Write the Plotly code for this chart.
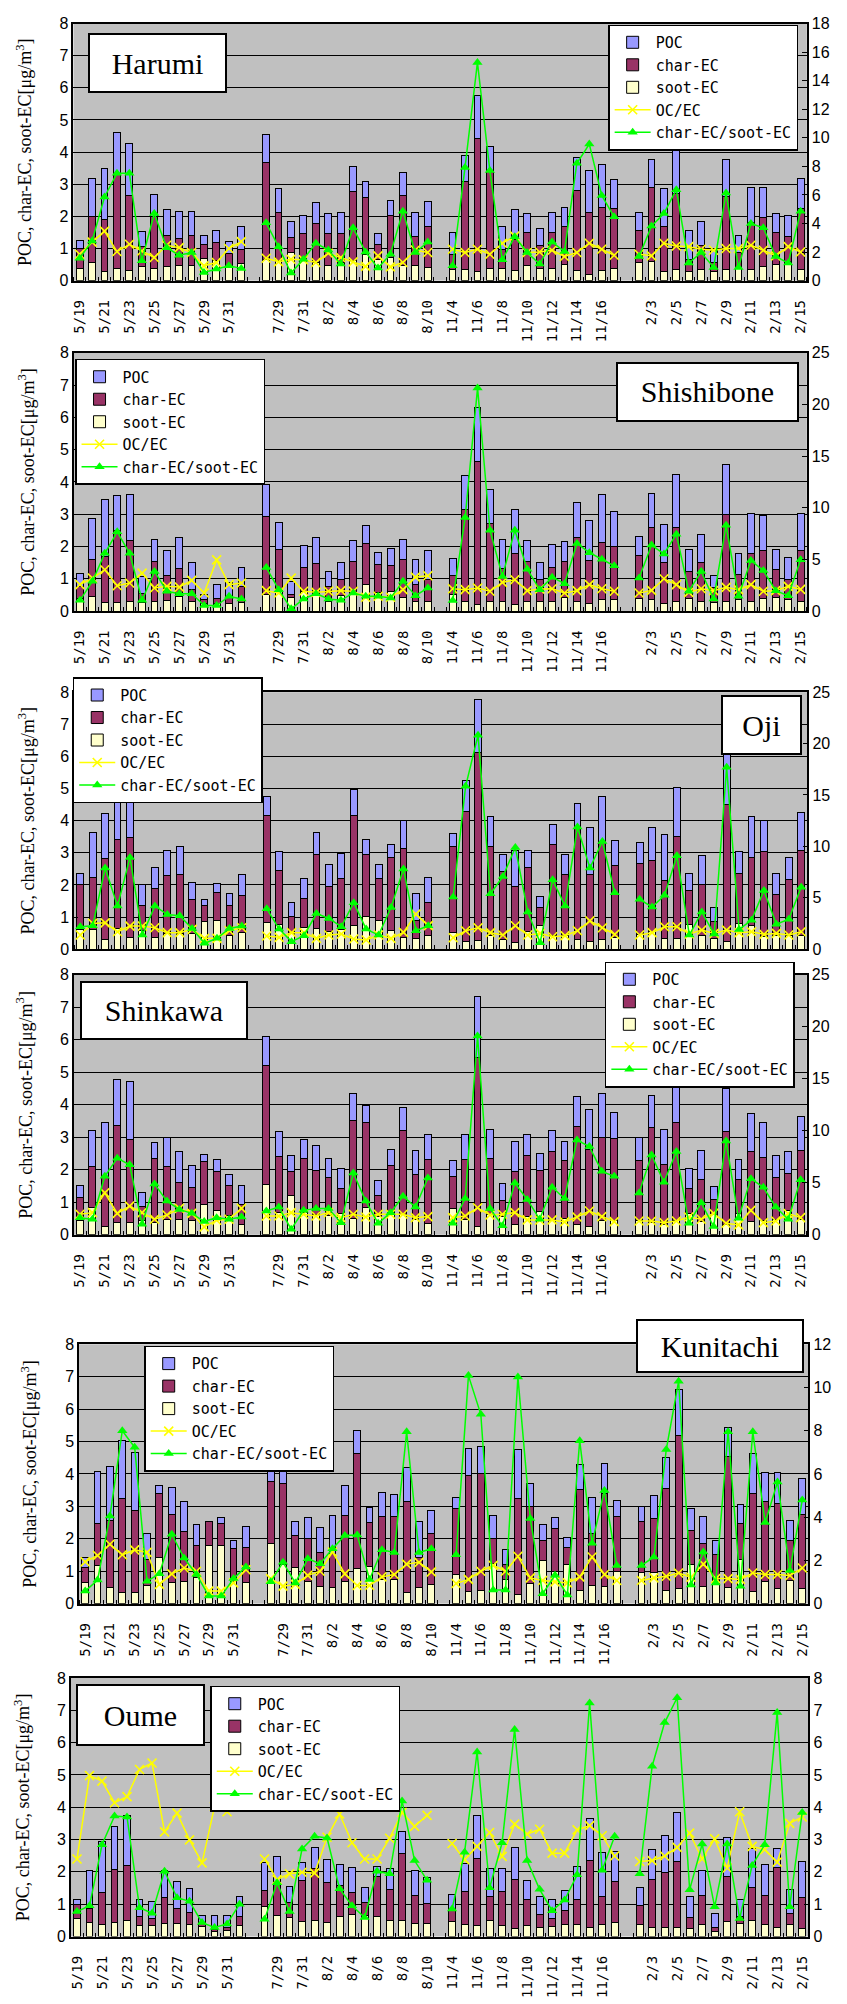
import plotly.graph_objects as go

W, H = 847, 2004

# ---------------- categories ----------------
dates_may = ["5/19", "5/20", "5/21", "5/22", "5/23", "5/24", "5/25", "5/26", "5/27", "5/28", "5/29", "5/30", "5/31", "6/1"]
dates_aug = ["7/28", "7/29", "7/30", "7/31", "8/1", "8/2", "8/3", "8/4", "8/5", "8/6", "8/7", "8/8", "8/9", "8/10"]
dates_nov = ["11/4", "11/5", "11/6", "11/7", "11/8", "11/9", "11/10", "11/11", "11/12", "11/13", "11/14", "11/15", "11/16", "11/17"]
dates_feb = ["2/2", "2/3", "2/4", "2/5", "2/6", "2/7", "2/8", "2/9", "2/10", "2/11", "2/12", "2/13", "2/14", "2/15"]
categories = dates_may + [""] + dates_aug + [""] + dates_nov + [""] + dates_feb

stations = ["Harumi", "Shishibone", "Oji", "Shinkawa", "Kunitachi", "Oume"]
ratio_axis_max = [18, 25, 25, 25, 12, 8]
ratio_axis_dtick = [2, 5, 5, 5, 2, 1]

# ---------------- Harumi ----------------
harumi_soot = [0.39, 0.55, 0.28, 0.39, 0.31, 0.44, 0.39, 0.43, 0.46, 0.46, 0.70, 0.64, 0.42, 0.53,
               0.67, 0.62, 0.87, 0.67, 0.57, 0.46, 0.57, 0.62, 0.82, 0.67, 0.72, 0.46, 0.46, 0.41,
               0.36, 0.36, 0.28, 0.38, 0.39, 0.31, 0.48, 0.39, 0.39, 0.51, 0.31, 0.19, 0.31, 0.38,
               0.57, 0.59, 0.28, 0.36, 0.30, 0.36, 0.28, 0.36, 0.45, 0.36, 0.43, 0.51, 0.61, 0.36]
harumi_char = [0.61, 1.45, 1.62, 2.95, 2.33, 0.62, 1.61, 0.96, 0.85, 0.96, 0.43, 0.54, 0.43, 0.45,
               3.00, 1.51, 0.47, 0.79, 1.21, 1.00, 0.89, 2.14, 1.78, 0.44, 1.31, 2.18, 0.90, 1.29,
               0.46, 2.72, 4.14, 3.02, 0.59, 0.98, 1.01, 0.71, 1.10, 1.16, 2.50, 1.94, 1.98, 1.88,
               1.00, 2.32, 1.42, 2.34, 0.37, 0.72, 0.29, 2.26, 0.42, 1.44, 1.55, 0.98, 0.75, 1.90]
harumi_poc = [0.25, 1.19, 1.60, 1.27, 1.62, 0.46, 0.67, 0.82, 0.85, 0.74, 0.26, 0.39, 0.36, 0.69,
              0.88, 0.75, 0.51, 0.57, 0.66, 0.63, 0.67, 0.79, 0.48, 0.35, 0.46, 0.72, 0.77, 0.75,
              0.67, 0.83, 1.34, 0.79, 0.69, 0.92, 0.60, 0.51, 0.64, 0.62, 1.02, 1.29, 1.34, 0.90,
              0.56, 0.86, 1.18, 1.49, 0.89, 0.77, 0.38, 1.15, 0.54, 1.11, 0.93, 0.60, 0.68, 0.93]
harumi_ocec = [1.85, 2.70, 3.47, 2.04, 2.55, 2.08, 1.62, 2.48, 2.31, 1.97, 1.04, 1.27, 2.25, 2.73,
               1.57, 1.32, 1.50, 1.46, 1.27, 1.92, 1.62, 1.32, 1.00, 1.74, 0.97, 1.27, 2.15, 1.97,
               2.20, 1.97, 2.20, 1.85, 2.62, 3.12, 1.97, 2.01, 2.13, 1.69, 1.97, 2.62, 2.20, 1.78,
               1.85, 1.74, 2.62, 2.43, 2.38, 2.20, 2.13, 2.25, 2.25, 2.48, 2.13, 1.74, 2.38, 2.01]
harumi_ratio = [1.57, 2.78, 5.86, 7.52, 7.52, 1.39, 4.70, 2.31, 1.78, 1.97, 0.58, 0.81, 1.04, 0.86,
                4.05, 2.38, 0.53, 1.50, 2.62, 2.15, 1.16, 3.70, 2.01, 0.88, 1.85, 4.86, 1.97, 2.70,
                1.04, 7.92, 15.28, 7.71, 1.46, 3.08, 1.97, 1.16, 2.71, 2.04, 8.22, 9.56, 5.97, 4.47,
                1.69, 3.82, 4.70, 6.37, 1.23, 1.97, 0.93, 6.13, 0.93, 4.00, 3.70, 1.69, 1.23, 4.86]

# ---------------- Shishibone ----------------
shishibone_soot = [0.38, 0.44, 0.28, 0.28, 0.31, 0.26, 0.31, 0.34, 0.44, 0.31, 0.24, 0.25, 0.23, 0.28,
                   0.51, 0.62, 0.41, 0.62, 0.55, 0.31, 0.47, 0.51, 0.82, 0.59, 0.61, 0.41, 0.31, 0.31,
                   0.51, 0.31, 0.20, 0.31, 0.31, 0.20, 0.31, 0.31, 0.31, 0.41, 0.31, 0.23, 0.36, 0.36,
                   0.38, 0.36, 0.23, 0.31, 0.38, 0.31, 0.26, 0.31, 0.36, 0.31, 0.38, 0.43, 0.36, 0.31]
shishibone_char = [0.39, 1.15, 1.41, 2.22, 1.89, 0.30, 1.22, 0.75, 0.89, 0.35, 0.12, 0.13, 0.23, 0.49,
                   2.43, 1.29, 0.10, 0.74, 0.93, 0.46, 0.50, 1.02, 1.26, 0.84, 0.79, 1.18, 0.51, 0.66,
                   0.58, 2.83, 4.43, 2.40, 1.02, 1.57, 1.22, 0.66, 1.05, 1.12, 1.97, 1.34, 1.76, 1.63,
                   1.34, 2.23, 1.27, 2.28, 0.85, 1.20, 0.46, 2.69, 0.77, 1.48, 1.49, 0.85, 0.61, 1.56]
shishibone_poc = [0.41, 1.27, 1.76, 1.07, 1.41, 0.51, 0.70, 0.78, 0.95, 0.86, 0.15, 0.44, 0.43, 0.59,
                  0.98, 0.83, 0.41, 0.66, 0.79, 0.46, 0.53, 0.67, 0.56, 0.38, 0.54, 0.64, 0.79, 0.90,
                  0.55, 1.05, 1.66, 1.05, 0.89, 1.37, 0.65, 0.54, 0.69, 0.62, 1.08, 1.24, 1.48, 1.10,
                  0.58, 1.04, 1.19, 1.64, 0.68, 0.87, 0.37, 1.53, 0.66, 1.23, 1.10, 0.63, 0.70, 1.15]
shishibone_ocec = [2.56, 3.20, 4.00, 2.46, 2.72, 3.68, 2.24, 2.40, 2.33, 2.97, 1.76, 4.96, 2.56, 2.72,
                   1.98, 1.76, 3.20, 1.92, 1.82, 1.92, 1.98, 1.92, 1.34, 1.44, 1.34, 2.08, 3.29, 3.42,
                   2.17, 2.08, 2.24, 1.92, 2.78, 3.04, 1.98, 2.14, 2.17, 1.76, 1.98, 2.56, 2.17, 1.92,
                   1.76, 2.01, 3.13, 2.56, 1.82, 2.17, 1.98, 2.30, 2.08, 2.56, 1.92, 1.98, 2.40, 2.10]
shishibone_ratio = [1.05, 2.88, 5.60, 7.67, 5.60, 1.05, 3.84, 1.92, 1.69, 1.69, 0.54, 0.54, 1.44, 1.18,
                    4.22, 2.08, 0.22, 1.18, 1.69, 1.18, 1.05, 1.76, 1.44, 1.44, 1.28, 2.88, 1.50, 2.24,
                    1.02, 9.05, 21.60, 7.83, 3.36, 7.83, 4.06, 2.08, 3.29, 2.65, 6.55, 5.66, 5.02, 4.38,
                    3.20, 6.39, 5.53, 7.45, 1.92, 3.84, 1.18, 8.31, 1.44, 4.89, 3.93, 1.98, 1.50, 4.96]

# ---------------- Oji ----------------
oji_soot = [0.60, 0.62, 0.31, 0.66, 0.36, 0.58, 0.36, 0.49, 0.49, 0.49, 0.87, 0.90, 0.44, 0.51,
            0.83, 0.77, 0.49, 0.68, 0.65, 0.54, 0.60, 0.73, 1.03, 0.90, 0.58, 0.36, 0.32, 0.44,
            0.51, 0.24, 0.27, 0.44, 0.29, 0.21, 0.54, 0.75, 0.44, 0.44, 0.29, 0.24, 0.29, 0.37,
            0.46, 0.54, 0.34, 0.34, 0.77, 0.44, 0.34, 0.24, 0.80, 0.75, 0.39, 0.44, 0.44, 0.44]
oji_char = [1.40, 1.62, 2.50, 2.76, 3.12, 0.79, 1.52, 1.80, 1.85, 1.05, 0.50, 0.86, 0.93, 1.15,
            3.34, 1.68, 0.54, 0.89, 2.31, 1.42, 1.59, 3.44, 1.93, 1.29, 2.26, 2.79, 0.58, 1.01,
            2.69, 4.06, 5.86, 2.76, 2.14, 1.75, 1.99, 0.55, 2.83, 1.88, 3.49, 2.08, 3.03, 2.23,
            2.22, 2.22, 1.80, 3.17, 1.06, 1.56, 0.51, 4.26, 1.57, 2.09, 2.64, 1.26, 1.73, 2.62]
oji_poc = [0.37, 1.39, 1.41, 1.19, 1.60, 0.63, 0.65, 0.79, 0.86, 0.55, 0.17, 0.30, 0.36, 0.66,
           0.59, 0.58, 0.42, 0.64, 0.67, 0.69, 0.80, 0.80, 0.46, 0.46, 0.43, 0.87, 0.83, 0.79,
           0.40, 0.94, 1.64, 0.94, 0.53, 1.12, 0.55, 0.35, 0.60, 0.64, 0.74, 1.46, 1.44, 0.79,
           0.64, 1.02, 1.42, 1.53, 0.54, 0.93, 0.45, 1.60, 0.67, 1.30, 0.99, 0.67, 0.67, 1.19]
oji_ocec = [1.38, 2.51, 2.57, 1.70, 2.25, 2.25, 2.09, 1.61, 1.61, 1.93, 1.06, 1.06, 1.80, 2.09,
            1.29, 1.16, 1.61, 1.61, 1.06, 1.38, 1.48, 1.00, 0.90, 1.38, 1.06, 1.64, 3.41, 2.30,
            1.12, 1.80, 2.09, 1.61, 1.38, 2.28, 1.38, 1.54, 1.22, 1.32, 1.80, 2.76, 2.09, 1.45,
            1.38, 1.61, 2.19, 2.19, 1.48, 1.86, 1.54, 1.86, 1.61, 1.70, 1.45, 1.54, 1.38, 1.70]
oji_ratio = [2.19, 2.28, 7.90, 4.21, 8.93, 1.38, 4.21, 3.37, 3.25, 2.02, 0.58, 1.06, 2.02, 2.25,
             3.95, 1.96, 0.74, 1.32, 3.47, 2.99, 2.19, 4.53, 1.96, 1.38, 4.05, 7.81, 1.80, 2.28,
             5.08, 15.84, 20.82, 5.40, 7.07, 9.90, 3.63, 0.64, 6.75, 4.21, 11.89, 7.90, 10.48, 5.50,
             4.85, 4.11, 5.24, 9.09, 1.38, 3.63, 1.48, 17.70, 1.93, 2.83, 5.72, 2.44, 2.92, 6.04]

# ---------------- Shinkawa ----------------
shinkawa_soot = [0.43, 0.83, 0.27, 0.38, 0.38, 0.43, 0.38, 0.48, 0.48, 0.45, 0.93, 0.76, 0.60, 0.33,
                 1.54, 0.68, 1.21, 0.68, 0.63, 0.58, 0.65, 0.50, 0.85, 0.57, 0.68, 0.63, 0.48, 0.35,
                 0.81, 0.48, 0.27, 0.63, 0.56, 0.33, 0.55, 0.71, 0.43, 0.51, 0.33, 0.27, 0.43, 0.43,
                 0.43, 0.38, 0.33, 0.43, 0.67, 0.42, 0.61, 0.33, 0.66, 0.40, 0.43, 0.48, 0.76, 0.48]
shinkawa_char = [0.71, 1.27, 1.48, 2.99, 2.54, 0.45, 1.96, 1.62, 1.12, 1.02, 1.31, 1.19, 0.91, 0.60,
                 3.66, 1.73, 0.74, 1.66, 1.35, 1.17, 0.76, 3.03, 2.61, 0.64, 1.45, 2.59, 1.39, 1.98,
                 0.97, 1.85, 5.19, 1.73, 0.48, 1.62, 1.89, 1.27, 2.13, 1.78, 2.99, 2.34, 2.57, 2.52,
                 1.86, 2.91, 1.82, 3.03, 0.75, 1.28, 0.48, 2.84, 1.04, 2.16, 1.96, 1.27, 1.14, 2.11]
shinkawa_poc = [0.37, 1.12, 1.71, 1.41, 1.81, 0.43, 0.50, 0.90, 0.96, 0.66, 0.24, 0.38, 0.36, 0.58,
                0.90, 0.76, 0.48, 0.58, 0.76, 0.61, 0.64, 0.81, 0.52, 0.46, 0.50, 0.69, 0.72, 0.74,
                0.51, 0.77, 1.88, 0.89, 0.54, 0.92, 0.63, 0.53, 0.66, 0.58, 0.92, 1.25, 1.34, 0.81,
                0.71, 1.00, 1.10, 1.31, 0.63, 0.88, 0.40, 1.32, 0.61, 1.17, 1.06, 0.68, 0.66, 1.04]
shinkawa_ocec = [1.97, 2.13, 4.03, 2.06, 2.76, 2.13, 1.49, 1.90, 2.54, 2.06, 0.76, 1.40, 1.49, 2.54,
                 1.81, 1.81, 2.13, 1.97, 1.81, 2.13, 1.65, 1.97, 1.71, 1.97, 1.97, 1.97, 1.65, 1.75,
                 1.65, 1.81, 2.60, 1.90, 1.97, 2.13, 1.43, 1.40, 1.43, 1.24, 1.71, 2.29, 1.75, 1.27,
                 1.33, 1.33, 1.17, 1.33, 1.71, 1.49, 2.06, 1.11, 0.95, 2.35, 1.17, 1.33, 2.03, 1.65]
shinkawa_ratio = [1.65, 1.49, 5.62, 7.37, 6.73, 1.02, 4.89, 3.24, 2.44, 2.06, 1.27, 1.65, 1.49, 1.71,
                  2.29, 2.67, 0.54, 2.35, 2.54, 2.54, 1.17, 5.94, 3.24, 1.11, 2.13, 3.71, 2.67, 5.46,
                  1.11, 3.49, 19.10, 2.54, 0.86, 4.98, 3.40, 1.49, 4.57, 3.49, 9.11, 8.48, 6.10, 5.62,
                  4.03, 7.68, 5.05, 8.00, 1.11, 3.08, 0.79, 9.02, 1.59, 5.40, 4.57, 2.67, 1.49, 5.30]

# ---------------- Kunitachi ----------------
kunitachi_soot = [0.64, 1.18, 0.49, 0.34, 0.34, 0.56, 1.41, 0.66, 0.69, 0.80, 1.79, 1.79, 0.69, 0.66,
                  1.87, 1.20, 1.10, 0.69, 0.54, 0.49, 0.69, 1.07, 1.15, 0.74, 0.74, 0.34, 0.49, 0.59,
                  0.90, 0.36, 0.42, 1.25, 0.76, 0.27, 0.61, 1.33, 1.00, 1.22, 0.42, 0.57, 0.54, 1.00,
                  0.95, 0.95, 0.42, 0.46, 1.20, 0.54, 0.69, 0.49, 1.36, 0.39, 0.67, 0.46, 0.71, 0.46]
kunitachi_char = [0.46, 1.30, 2.06, 2.90, 2.54, 0.80, 1.98, 2.10, 1.53, 0.98, 0.74, 0.67, 1.02, 1.07,
                  1.90, 2.50, 1.00, 1.33, 1.05, 1.06, 2.04, 3.57, 1.35, 1.94, 1.94, 2.82, 0.92, 1.58,
                  2.02, 3.60, 3.59, 0.75, 0.46, 2.97, 2.38, 0.61, 1.32, 0.52, 3.10, 1.60, 2.86, 1.70,
                  1.58, 1.68, 3.13, 4.74, 1.07, 1.33, 0.82, 4.06, 1.12, 3.00, 2.47, 2.63, 1.23, 2.30]
kunitachi_poc = [0.31, 1.61, 1.69, 1.79, 1.77, 0.81, 0.26, 0.82, 0.94, 0.67, 0.00, 0.19, 0.23, 0.65,
                 0.44, 0.51, 0.43, 0.63, 0.75, 1.18, 0.92, 0.69, 0.46, 0.75, 0.69, 1.05, 1.12, 0.71,
                 0.34, 0.83, 0.84, 0.71, 0.44, 1.51, 0.71, 0.51, 0.33, 0.30, 0.76, 1.09, 0.93, 0.49,
                 0.48, 0.71, 0.97, 1.41, 0.67, 0.81, 0.43, 0.88, 0.59, 1.23, 0.92, 0.94, 0.62, 1.09]
kunitachi_ocec = [1.93, 2.23, 2.75, 2.26, 2.49, 2.37, 0.89, 1.38, 1.65, 1.50, 0.58, 0.58, 0.96, 1.57,
                  1.16, 0.81, 0.89, 1.31, 1.50, 2.39, 1.38, 0.84, 0.84, 1.24, 1.35, 1.83, 1.91, 1.47,
                  0.93, 1.12, 1.50, 1.77, 1.50, 2.19, 1.19, 1.07, 1.01, 0.96, 1.24, 2.16, 1.35, 1.07,
                  1.07, 1.19, 1.27, 1.42, 1.22, 1.83, 1.16, 1.16, 1.12, 1.42, 1.35, 1.35, 1.30, 1.65]
kunitachi_ratio = [0.58, 1.09, 4.05, 8.00, 7.23, 1.04, 1.38, 3.21, 2.11, 1.35, 0.35, 0.35, 1.16, 1.70,
                   1.01, 1.91, 0.96, 2.08, 1.85, 2.54, 3.15, 3.18, 1.12, 2.49, 2.37, 7.95, 2.37, 2.54,
                   2.26, 10.55, 8.76, 0.63, 0.63, 10.49, 3.94, 0.46, 1.31, 0.40, 7.54, 2.80, 5.24, 1.77,
                   1.77, 2.16, 7.13, 10.29, 0.86, 2.39, 0.96, 7.95, 0.81, 7.95, 3.75, 5.63, 1.53, 4.79]

# ---------------- Oume ----------------
oume_soot = [0.56, 0.44, 0.36, 0.44, 0.48, 0.33, 0.33, 0.41, 0.41, 0.36, 0.31, 0.17, 0.20, 0.33,
             0.92, 0.64, 0.58, 0.46, 0.51, 0.43, 0.63, 0.69, 0.66, 0.63, 0.51, 0.51, 0.39, 0.39,
             0.46, 0.38, 0.34, 0.48, 0.34, 0.24, 0.34, 0.28, 0.31, 0.38, 0.38, 0.28, 0.38, 0.43,
             0.36, 0.28, 0.28, 0.28, 0.24, 0.36, 0.15, 0.46, 0.41, 0.48, 0.36, 0.28, 0.36, 0.24]
oume_char = [0.42, 0.42, 1.00, 1.62, 1.72, 0.28, 0.23, 0.80, 0.45, 0.39, 0.13, 0.06, 0.07, 0.30,
             0.51, 1.05, 0.47, 1.28, 1.58, 1.24, 0.94, 0.67, 0.39, 1.24, 0.95, 2.05, 0.89, 0.63,
             0.39, 1.02, 2.06, 0.75, 1.06, 1.53, 0.82, 0.41, 0.25, 0.44, 0.78, 2.07, 0.85, 1.28,
             0.61, 1.49, 1.71, 2.05, 0.35, 0.92, 0.13, 1.41, 0.20, 1.03, 0.92, 1.87, 0.34, 0.97]
oume_poc = [0.18, 1.19, 1.58, 1.35, 1.55, 0.52, 0.53, 0.84, 0.85, 0.73, 0.22, 0.43, 0.39, 0.62,
            0.85, 0.80, 0.50, 0.54, 0.65, 0.70, 0.65, 0.77, 0.46, 0.30, 0.64, 0.69, 0.77, 0.80,
            0.46, 0.87, 1.35, 0.87, 0.70, 0.97, 0.58, 0.56, 0.60, 0.61, 1.01, 1.30, 1.36, 0.93,
            0.54, 0.91, 1.15, 1.51, 0.66, 0.75, 0.42, 1.20, 0.55, 1.20, 0.94, 0.58, 0.75, 1.12]
oume_ocec = [2.40, 4.98, 4.81, 4.14, 4.33, 5.17, 5.37, 3.24, 3.82, 2.99, 2.28, 4.02, 3.86, 4.30,
             2.40, 1.76, 1.94, 1.99, 1.96, 3.07, 3.79, 2.90, 2.40, 2.40, 3.04, 3.84, 3.41, 3.75,
             2.88, 2.38, 2.79, 3.22, 2.48, 3.48, 3.17, 3.32, 2.58, 2.58, 3.30, 3.43, 3.12, 2.49,
             2.32, 2.35, 2.49, 2.76, 3.20, 2.40, 3.02, 2.12, 3.86, 2.79, 2.69, 2.30, 3.50, 3.70]
oume_ratio = [0.77, 0.95, 2.84, 3.73, 3.70, 0.89, 0.72, 2.02, 1.20, 1.09, 0.43, 0.28, 0.39, 1.00,
              0.53, 1.66, 0.77, 2.71, 3.10, 3.05, 1.48, 0.95, 0.59, 2.02, 1.94, 4.19, 2.35, 1.74,
              0.85, 2.61, 5.71, 1.51, 2.90, 6.41, 2.35, 1.46, 0.80, 1.13, 1.91, 7.23, 2.05, 3.10,
              1.94, 5.27, 6.62, 7.39, 1.45, 2.86, 0.92, 2.86, 0.56, 2.20, 2.84, 6.93, 0.92, 3.84]

soot_series = [harumi_soot, shishibone_soot, oji_soot, shinkawa_soot, kunitachi_soot, oume_soot]
char_series = [harumi_char, shishibone_char, oji_char, shinkawa_char, kunitachi_char, oume_char]
poc_series = [harumi_poc, shishibone_poc, oji_poc, shinkawa_poc, kunitachi_poc, oume_poc]
ocec_series = [harumi_ocec, shishibone_ocec, oji_ocec, shinkawa_ocec, kunitachi_ocec, oume_ocec]
ratio_series = [harumi_ratio, shishibone_ratio, oji_ratio, shinkawa_ratio, kunitachi_ratio, oume_ratio]

# ---------------- layout constants (pixels) ----------------
panel_px = [(71.7, 15.7, 807.7, 275.0), (72.0, 347.7, 807.7, 608.3), (72.3, 690.0, 808.3, 949.3),
            (72.0, 975.0, 807.7, 1237.3), (77.3, 1347.7, 809.3, 1609.3), (69.0, 1684.3, 809.3, 1945.0)]
name_box_px = [(87, 25, 226, 85), (617, 357.7, 800, 417.3), (722, 692.7, 803, 752.7),
               (79, 981.7, 247, 1040.7), (637, 1322, 805, 1376), (74, 1690, 203, 1752.3)]
legend_px = [(608.3, 16.7), (73.3, 354), (71, 675), (605, 961.7), (142.7, 1349.3), (209, 1692.3)]
ytitle_x_px = [22, 25, 25, 23, 28, 20]
show_xlabels = [True, True, False, True, True, True]

C_POC, C_CHAR, C_SOOT = "#9999FF", "#993366", "#FFFFCC"
C_OCEC, C_RATIO = "#FFFF00", "#00FF00"

n_cat = len(categories)
bar_x = [i for i, c in enumerate(categories) if c]
tick_idx = [i for i in range(0, n_cat, 2) if categories[i]]
tick_txt = [categories[i] for i in tick_idx]


def gapped(vals):
    out = [None] * n_cat
    for xi, v in zip(bar_x, vals):
        out[xi] = v
    return out


fig = go.Figure()
layout = dict(
    width=W, height=H, margin=dict(l=0, r=0, t=0, b=0),
    paper_bgcolor="white", plot_bgcolor="#C0C0C0",
    barmode="stack", bargap=0.45, showlegend=True,
    annotations=[],
)

for k in range(6):
    kx = "" if k == 0 else str(k + 1)
    ky1 = "" if k == 0 else str(2 * k + 1)
    ky2 = str(2 * k + 2)
    leg = "legend" if k == 0 else "legend%d" % (k + 1)
    xa, ya1, ya2 = "x" + kx, "y" + ky1, "y" + ky2
    common = dict(xaxis=xa, legend=leg)

    bar_line = dict(color="black", width=1)
    fig.add_trace(go.Bar(x=bar_x, y=soot_series[k], name="soot-EC", yaxis=ya1, legendrank=3,
                         marker=dict(color=C_SOOT, line=bar_line), **common))
    fig.add_trace(go.Bar(x=bar_x, y=char_series[k], name="char-EC", yaxis=ya1, legendrank=2,
                         marker=dict(color=C_CHAR, line=bar_line), **common))
    fig.add_trace(go.Bar(x=bar_x, y=poc_series[k], name="POC", yaxis=ya1, legendrank=1,
                         marker=dict(color=C_POC, line=bar_line), **common))
    fig.add_trace(go.Scatter(x=list(range(n_cat)), y=gapped(ocec_series[k]), name="OC/EC", yaxis=ya2,
                             mode="lines+markers", connectgaps=False, legendrank=4,
                             line=dict(color=C_OCEC, width=1.5),
                             marker=dict(symbol="x-thin", size=9, color=C_OCEC,
                                         line=dict(color=C_OCEC, width=1.6)), **common))
    fig.add_trace(go.Scatter(x=list(range(n_cat)), y=gapped(ratio_series[k]), name="char-EC/soot-EC",
                             yaxis=ya2, mode="lines+markers", connectgaps=False, legendrank=5,
                             line=dict(color=C_RATIO, width=1.5),
                             marker=dict(symbol="triangle-up", size=9, color=C_RATIO), **common))

    l, t, r, b = panel_px[k]
    xdom = [l / W, r / W]
    ydom = [1 - b / H, 1 - t / H]

    layout["xaxis" + kx] = dict(
        domain=xdom, anchor=ya1, range=[-0.5, n_cat - 0.5],
        tickmode="array", tickvals=tick_idx, ticktext=tick_txt, tickangle=-90,
        showticklabels=show_xlabels[k], ticks="", ticklabelstandoff=12,
        tickfont=dict(family="DejaVu Sans Mono", size=14, color="black"),
        showline=True, linecolor="black", linewidth=1.5, mirror=True,
        showgrid=False, zeroline=False,
        minor=dict(tickvals=[i + 0.5 for i in range(-1, n_cat)], ticks="inside", ticklen=4,
                   tickcolor="black", tickwidth=1, showgrid=False),
    )
    layout["yaxis" + ky1] = dict(
        domain=ydom, anchor=xa, range=[0, 8], dtick=1, tick0=0,
        showgrid=True, gridcolor="black", gridwidth=1, zeroline=False,
        showline=True, linecolor="black", linewidth=1.5, mirror=True,
        ticks="inside", ticklen=4, tickcolor="black",
        tickfont=dict(family="Liberation Sans", size=16, color="black"),
    )
    layout["yaxis" + ky2] = dict(
        domain=ydom, anchor=xa, overlaying=ya1, side="right",
        range=[0, ratio_axis_max[k]], dtick=ratio_axis_dtick[k], tick0=0,
        showgrid=False, zeroline=False, showline=True, linecolor="black", linewidth=1.5,
        ticks="inside", ticklen=5, tickcolor="black",
        tickfont=dict(family="Liberation Sans", size=16, color="black"),
    )

    lx, ly = legend_px[k]
    layout[leg] = dict(
        x=lx / W, y=1 - ly / H, xanchor="left", yanchor="top",
        bgcolor="white", bordercolor="black", borderwidth=1.5,
        font=dict(family="DejaVu Sans Mono", size=15, color="black"),
        traceorder="normal", tracegroupgap=0, itemwidth=36,
    )

    nl, nt, nr, nb = name_box_px[k]
    layout["annotations"].append(dict(
        xref="paper", yref="paper", x=(nl + nr) / 2 / W, y=1 - (nt + nb) / 2 / H,
        xanchor="center", yanchor="middle", showarrow=False,
        text=stations[k], font=dict(family="Liberation Serif", size=30, color="black"),
        bgcolor="white", bordercolor="black", borderwidth=2, borderpad=0,
        width=nr - nl - 4, height=nb - nt - 4, align="center", valign="middle",
    ))
    layout["annotations"].append(dict(
        xref="paper", yref="paper", x=ytitle_x_px[k] / W, y=1 - (t + b) / 2 / H,
        xanchor="center", yanchor="middle", showarrow=False, textangle=-90,
        text="POC, char-EC, soot-EC[μg/m<sup>3</sup>]",
        font=dict(family="Liberation Serif", size=18, color="black"),
    ))

fig.update_layout(**layout)
fig.write_html("out.html")
